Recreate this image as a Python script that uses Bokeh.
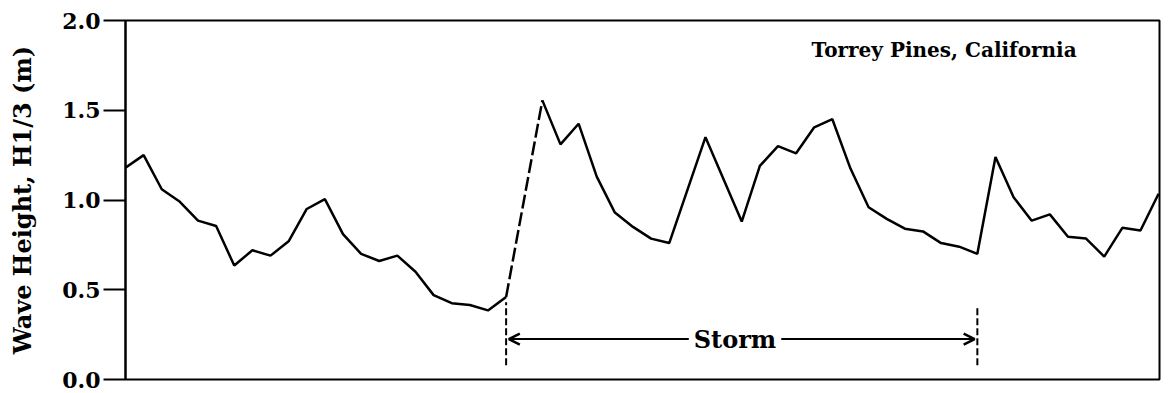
import math
from bokeh.plotting import figure
from bokeh.models import (Range1d, Label, Arrow, OpenHead, FixedTicker, ColumnDataSource,
                          PrintfTickFormatter)
from bokeh.embed import file_html
from bokeh.resources import INLINE

# ---- data ----
hours = [0, 1, 2, 3, 4, 5, 6, 7, 8, 9, 10, 11, 12, 13, 14, 15, 16, 17, 18, 19, 20, 21, 22,
         23, 24, 25, 26, 27, 28, 29, 30, 32, 34, 35, 36, 37, 38, 39, 40, 41, 42, 43, 44,
         45, 46, 47, 48, 49, 50, 51, 52, 53, 54, 55, 56, 57]
wave_height = [1.18, 1.25, 1.06, 0.99, 0.885, 0.855, 0.635, 0.72, 0.69, 0.77, 0.95, 1.005,
               0.81, 0.70, 0.66, 0.69, 0.60, 0.47, 0.425, 0.415, 0.385, 0.46, float("nan"),
               1.555, 1.31, 1.425, 1.13, 0.93, 0.85, 0.785, 0.76, 1.35, 0.88, 1.19, 1.30,
               1.26, 1.405, 1.45, 1.175, 0.96, 0.895, 0.84, 0.825, 0.76, 0.74, 0.70, 1.24,
               1.015, 0.885, 0.92, 0.795, 0.785, 0.685, 0.845, 0.83, 1.035]
y_ticks = [0.0, 0.5, 1.0, 1.5, 2.0]
storm_start = 21
storm_end = 47
title_text = "Torrey Pines, California"
storm_text = "Storm"
y_label = "Wave Height, H1/3 (m)"

FONT = "DejaVu Serif"

p = figure(width=1165, height=393, output_backend="svg", toolbar_location=None,
           x_range=Range1d(0, 57.05), y_range=Range1d(0, 2.0),
           min_border_left=125, min_border_right=6, min_border_top=20, min_border_bottom=14)
p.background_fill_color = "white"
p.border_fill_color = "white"
p.grid.visible = False
p.xaxis.visible = False
p.outline_line_color = "black"
p.outline_line_width = 2

ax = p.yaxis[0]
ax.ticker = FixedTicker(ticks=y_ticks, minor_ticks=[])
ax.formatter = PrintfTickFormatter(format="%.1f")
ax.major_tick_out = 22
ax.major_tick_in = 0
ax.minor_tick_out = 0
ax.minor_tick_in = 0
ax.major_tick_line_width = 2
ax.major_tick_line_color = "black"
ax.axis_line_width = 2
ax.axis_line_color = "black"
ax.major_label_text_font = FONT
ax.major_label_text_font_size = "22px"
ax.major_label_text_font_style = "bold"
ax.major_label_text_color = "black"
ax.major_label_standoff = 3
ax.axis_label = y_label
ax.axis_label_text_font = FONT
ax.axis_label_text_font_size = "24px"
ax.axis_label_text_font_style = "bold"
ax.axis_label_text_color = "black"
ax.axis_label_standoff = 22

# main series (breaks at missing value)
src = ColumnDataSource(data=dict(x=hours, y=wave_height))
p.line("x", "y", source=src, line_color="black", line_width=2.5)

# dashed bridge across missing values
for i, v in enumerate(wave_height):
    if isinstance(v, float) and math.isnan(v):
        xs = [hours[i - 1], hours[i + 1]]
        ys = [wave_height[i - 1], wave_height[i + 1]]
        p.line(xs, ys, line_color="black", line_width=2.5, line_dash="14 4")

# storm markers
hmap = dict(zip(hours, wave_height))
for h, top in ((storm_start, hmap[storm_start] - 0.03), (storm_end, hmap[storm_end] - 0.30)):
    p.line([h, h], [0.08, top], line_color="black", line_width=2, line_dash="7 3")

arrow_y = 0.225
mid = (storm_start + storm_end) / 2 - 0.37
half_gap = 2.55
p.add_layout(Arrow(x_start=mid - half_gap, y_start=arrow_y, x_end=storm_start + 0.15, y_end=arrow_y,
                   line_width=2, line_color="black",
                   end=OpenHead(size=11, line_width=2.5, line_color="black")))
p.add_layout(Arrow(x_start=mid + half_gap, y_start=arrow_y, x_end=storm_end - 0.15, y_end=arrow_y,
                   line_width=2, line_color="black",
                   end=OpenHead(size=11, line_width=2.5, line_color="black")))
p.add_layout(Label(x=mid, y=arrow_y, text=storm_text, text_align="center",
                   text_baseline="middle", text_font=FONT, text_font_size="24px",
                   text_font_style="bold", text_color="black"))

p.add_layout(Label(x=52.48, y=1.833, text=title_text, text_align="right",
                   text_baseline="middle", text_font=FONT, text_font_size="20px",
                   text_font_style="bold", text_color="black"))

open("out.html", "w").write(file_html(p, INLINE))
